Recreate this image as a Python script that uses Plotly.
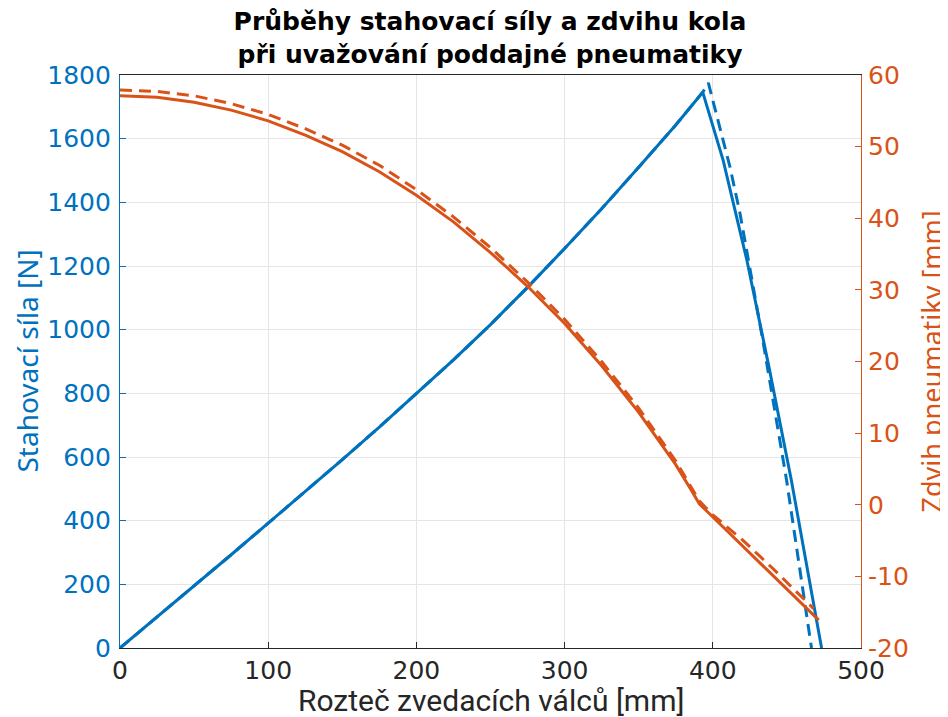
import plotly.graph_objects as go

# ---- data ----
force_x = [0, 25, 50, 75, 100, 125, 150, 175, 200, 225, 250, 275, 300, 325, 350, 375, 393.2,
           407, 423, 438, 453, 473.4]
force_solid = [0, 97, 195, 293, 392, 491, 592, 694, 798, 905, 1016, 1133, 1255, 1380, 1510, 1643, 1746,
               1532, 1218, 880, 527, 0]

force_dash_x = [0, 25, 50, 75, 100, 125, 150, 175, 200, 225, 250, 275, 300, 325, 350, 375, 393.2, 397,
                411.6, 418.4, 434, 449.8, 466.6]
force_dash = [0, 97, 195, 293, 392, 491, 592, 694, 798, 905, 1016, 1133, 1255, 1380, 1510, 1643, 1746, 1775,
              1511, 1364, 960, 527, 0]

lift_x = [0, 25, 50, 75, 100, 125, 150, 175, 200, 225, 250, 275, 300, 325, 350, 375, 385, 391, 395, 400, 430, 460, 471.5]
lift_solid = [57.1, 56.9, 56.2, 55.1, 53.6, 51.6, 49.3, 46.5, 43.2, 39.5, 35.2, 30.5, 25.3, 19.4, 12.9, 5.6,
              2.2, 0.1, -0.7, -1.7, -7.7, -13.8, -16.1]

lift_dash_x = [0, 25, 50, 75, 100, 125, 150, 175, 200, 225, 250, 275, 300, 325, 350, 375, 391, 396, 400, 420, 440, 468]
lift_dash = [57.9, 57.7, 57.1, 56.0, 54.5, 52.5, 50.2, 47.4, 44.0, 40.2, 35.9, 31.1, 25.9, 20.0, 13.5, 6.1,
             0.5, -0.5, -1.4, -4.9, -8.8, -14.5]

x_ticks = [0, 100, 200, 300, 400, 500]
y1_ticks = [0, 200, 400, 600, 800, 1000, 1200, 1400, 1600, 1800]
y2_ticks = [-20, -10, 0, 10, 20, 30, 40, 50, 60]
y2_ticktext = ["-20", "-10", "0", "10", "20", "30", "40", "50", "60"]

title_text = "Průběhy stahovací síly a zdvihu kola<br>při uvažování poddajné pneumatiky"
x_title = "Rozteč zvedacích válců [mm]"
y1_title = "Stahovací síla [N]"
y2_title = "Zdvih pneumatiky [mm]"

BLUE = "#0072BD"
ORANGE = "#D95319"
AX = "#262626"
GRID = "#e5e5e5"
TICKFONT = "DejaVu Sans"
NARROW = "Liberation Sans Narrow, Roboto"

fig = go.Figure()
fig.add_trace(go.Scatter(x=force_x, y=force_solid, mode="lines",
                         line=dict(color=BLUE, width=3), yaxis="y", showlegend=False))
fig.add_trace(go.Scatter(x=force_dash_x, y=force_dash, mode="lines",
                         line=dict(color=BLUE, width=3, dash="12px,7px"), yaxis="y", showlegend=False))
fig.add_trace(go.Scatter(x=lift_x, y=lift_solid, mode="lines",
                         line=dict(color=ORANGE, width=3), yaxis="y2", showlegend=False))
fig.add_trace(go.Scatter(x=lift_dash_x, y=lift_dash, mode="lines",
                         line=dict(color=ORANGE, width=3, dash="12px,7px"), yaxis="y2", showlegend=False))

fig.update_layout(
    width=948, height=717,
    margin=dict(l=112, r=95, t=67, b=77),
    paper_bgcolor="white", plot_bgcolor="white",
    title=dict(text=title_text, x=482 / 948, xanchor="center", y=1 - 22 / 717, yanchor="middle",
               yref="container",
               font=dict(family="DejaVu Sans", size=25, color="#000000", weight="bold")),
    xaxis=dict(range=[0, 500], tickvals=x_ticks, ticks="inside", ticklen=6, tickcolor=AX,
               showline=True, linecolor=AX, linewidth=1.2, mirror=True, automargin=False,
               showgrid=True, gridcolor=GRID, gridwidth=1, zeroline=False,
               tickfont=dict(family=TICKFONT, size=25, color=AX), ticklabelstandoff=0),
    yaxis=dict(range=[0, 1800], tickvals=y1_ticks, ticks="inside", ticklen=6, tickcolor=BLUE,
               showline=True, linecolor=BLUE, linewidth=1.2, automargin=False,
               showgrid=True, gridcolor=GRID, gridwidth=1, zeroline=False,
               tickfont=dict(family=TICKFONT, size=25, color=BLUE), ticklabelstandoff=3),
    yaxis2=dict(range=[-20, 60], tickvals=y2_ticks, ticktext=y2_ticktext, overlaying="y", side="right",
                ticks="inside", ticklen=6, tickcolor=ORANGE, automargin=False,
                showline=True, linecolor=ORANGE, linewidth=1.2,
                showgrid=False, zeroline=False,
                tickfont=dict(family=TICKFONT, size=25, color=ORANGE), ticklabelstandoff=1),
    annotations=[
        dict(text=x_title, xref="paper", yref="paper", x=0.5, y=0, yshift=-52,
             xanchor="center", yanchor="middle", showarrow=False,
             font=dict(family=NARROW, size=30, color=AX)),
        dict(text=y1_title, xref="paper", yref="paper", x=0, y=0.5, xshift=-94,
             xanchor="center", yanchor="middle", textangle=-90, showarrow=False,
             font=dict(family="Noto Sans", size=28, color=BLUE)),
        dict(text=y2_title, xref="paper", yref="paper", x=1, y=0.5, xshift=70,
             xanchor="center", yanchor="middle", textangle=-90, showarrow=False,
             font=dict(family="Noto Sans", size=27, color=ORANGE)),
    ],
)

fig.write_html("out.html")
